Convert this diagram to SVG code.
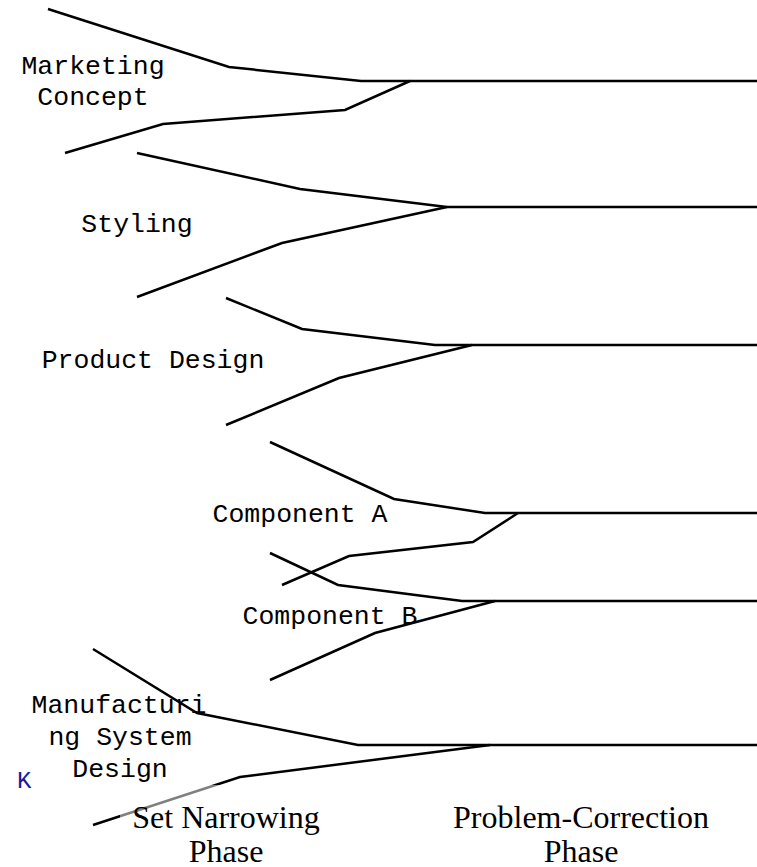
<svg xmlns="http://www.w3.org/2000/svg" width="757" height="867" viewBox="0 0 757 867">
<style>
.c{fill:none;stroke:#000;stroke-width:2.5;stroke-linejoin:miter}
.m{font-family:"Liberation Mono","Courier New",monospace;font-size:26.5px;fill:#000;text-anchor:middle}
.s{font-family:"Liberation Serif","Times New Roman",serif;font-size:32px;fill:#000;text-anchor:middle}
</style>
<rect width="757" height="867" fill="#fff"/>
<g id="connectors">
<polyline class="c" points="48,9 229,67 361,81 757,81"/>
<polyline class="c" points="65,153 163,124 345,110 410,81"/>
<polyline class="c" points="137,153 300,189 447,207 757,207"/>
<polyline class="c" points="137,297 282,243 447,207"/>
<polyline class="c" points="226,298 302,329 435,345 757,345"/>
<polyline class="c" points="226,425 339,378 472,345"/>
<polyline class="c" points="270,442 394,499 485,513 757,513"/>
<polyline class="c" points="282,585 349,556 473,542 518,513"/>
<polyline class="c" points="270,553 338,585 462,601 757,601"/>
<polyline class="c" points="270,680 375,633 495,601"/>
<polyline class="c" points="93,649 197,713 358,745 757,745"/>
<polyline class="c" points="93,825 240,777 490,745"/>
</g>
<g id="marketing-concept"><text class="m" x="93" y="74">Marketing</text><text class="m" x="93" y="105">Concept</text></g>
<g id="styling"><text class="m" x="137" y="232">Styling</text></g>
<g id="product-design"><text class="m" x="153" y="368">Product Design</text></g>
<g id="component-a"><text class="m" x="300" y="522">Component A</text></g>
<g id="component-b"><text class="m" x="330" y="624">Component B</text></g>
<g id="manufacturing"><text class="m" x="119" y="713">Manufacturi</text><text class="m" x="120" y="745">ng System</text><text class="m" x="120" y="777">Design</text></g>
<g id="k"><text x="17" y="788" style="font-family:'Liberation Mono',monospace;font-size:24px;fill:#1a1a9a">K</text></g>
<g id="set-narrowing"><rect x="120" y="785" width="210" height="82" fill="#fff" fill-opacity="0.5"/><text class="s" x="226" y="828">Set Narrowing</text><text class="s" x="226" y="862">Phase</text></g>
<g id="problem-correction"><text class="s" x="581" y="828">Problem-Correction</text><text class="s" x="581" y="862">Phase</text></g>
</svg>
